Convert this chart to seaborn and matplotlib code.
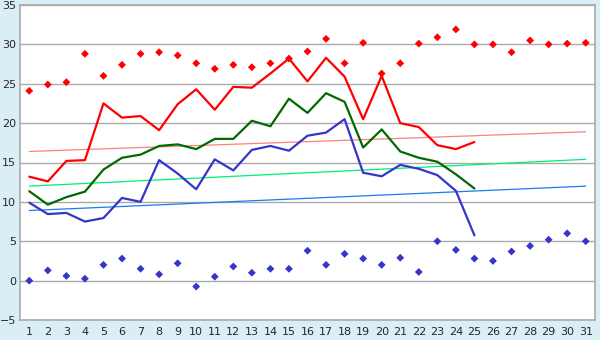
import numpy as np
import pandas as pd
import matplotlib
matplotlib.use('Agg')
import matplotlib.pyplot as plt
import seaborn as sns

days = list(range(1, 32))
days_obs = list(range(1, 26))

# daily observations (1..25)
t_max = [13.2, 12.6, 15.2, 15.3, 22.5, 20.7, 20.9, 19.1, 22.4, 24.3, 21.7, 24.6, 24.5,
         26.3, 28.2, 25.3, 28.3, 25.9, 20.5, 26.0, 20.0, 19.5, 17.2, 16.7, 17.6]
t_mean = [11.35, 9.65, 10.6, 11.3, 14.1, 15.6, 16.0, 17.1, 17.3, 16.7, 18.0, 18.0, 20.3,
          19.6, 23.1, 21.3, 23.8, 22.7, 16.9, 19.2, 16.4, 15.6, 15.1, 13.5, 11.7]
t_min = [9.9, 8.45, 8.6, 7.5, 7.95, 10.5, 10.0, 15.3, 13.6, 11.6, 15.4, 14.0, 16.6,
         17.1, 16.5, 18.4, 18.8, 20.5, 13.7, 13.25, 14.7, 14.2, 13.4, 11.4, 5.75]

# record values (1..31)
rec_max = [24.1, 24.9, 25.2, 28.8, 26.0, 27.4, 28.8, 29.0, 28.6, 27.6, 26.9, 27.4, 27.1,
           27.6, 28.2, 29.1, 30.7, 27.6, 30.2, 26.3, 27.6, 30.1, 30.9, 31.9, 30.0, 30.0,
           29.0, 30.5, 30.0, 30.1, 30.2]
rec_min = [0.0, 1.3, 0.6, 0.25, 2.0, 2.8, 1.5, 0.8, 2.2, -0.75, 0.5, 1.8, 1.0, 1.5, 1.5,
           3.8, 2.0, 3.4, 2.8, 2.0, 2.9, 1.1, 5.0, 3.9, 2.8, 2.5, 3.7, 4.4, 5.2, 6.0, 5.0]

# normals (start / end of month)
norm_days = [1, 31]
norm_max = [16.4, 18.9]
norm_mean = [12.0, 15.4]
norm_min = [8.9, 12.0]

sns.set_style("white")
plt.rcParams['font.family'] = ['DejaVu Sans']

fig = plt.figure(figsize=(6, 3.4), dpi=100, facecolor='#daeef6')
ax = fig.add_axes([20 / 600, 1 - 320 / 340, 575 / 600, 315 / 340])
ax.set_facecolor('white')

for y in range(-5, 36, 5):
    ax.axhline(y, color='#aaaaaa', lw=1, zorder=0)

sns.lineplot(x=norm_days, y=norm_max, ax=ax, color='#ff8080', lw=0.9)
sns.lineplot(x=norm_days, y=norm_mean, ax=ax, color='#00ee77', lw=0.9)
sns.lineplot(x=norm_days, y=norm_min, ax=ax, color='#1a7af0', lw=0.9)

sns.lineplot(x=days_obs, y=t_max, ax=ax, color='#ff0000', lw=1.6)
sns.lineplot(x=days_obs, y=t_mean, ax=ax, color='#006a00', lw=1.6)
sns.lineplot(x=days_obs, y=t_min, ax=ax, color='#3535c8', lw=1.6)

sns.scatterplot(x=days, y=rec_max, ax=ax, color='#ff0000', marker='D', s=16,
                edgecolor='none', zorder=5)
sns.scatterplot(x=days, y=rec_min, ax=ax, color='#3535c8', marker='D', s=16,
                edgecolor='none', zorder=5)

ax.set_xlim(0.5, 31.5)
ax.set_ylim(-5, 35)
ax.set_xticks(days)
ax.set_yticks(range(-5, 36, 5))
ax.tick_params(axis='x', labelsize=8, length=4, width=1, color='#333333',
               direction='out', pad=1)
ax.tick_params(axis='y', labelsize=8, length=2, width=1, color='#333333',
               direction='out', pad=1)
for s in ax.spines.values():
    s.set_color('#aaaaaa')
    s.set_linewidth(1.2)
ax.set_xlabel('')
ax.set_ylabel('')

fig.savefig('out.png', dpi=100, facecolor=fig.get_facecolor())
